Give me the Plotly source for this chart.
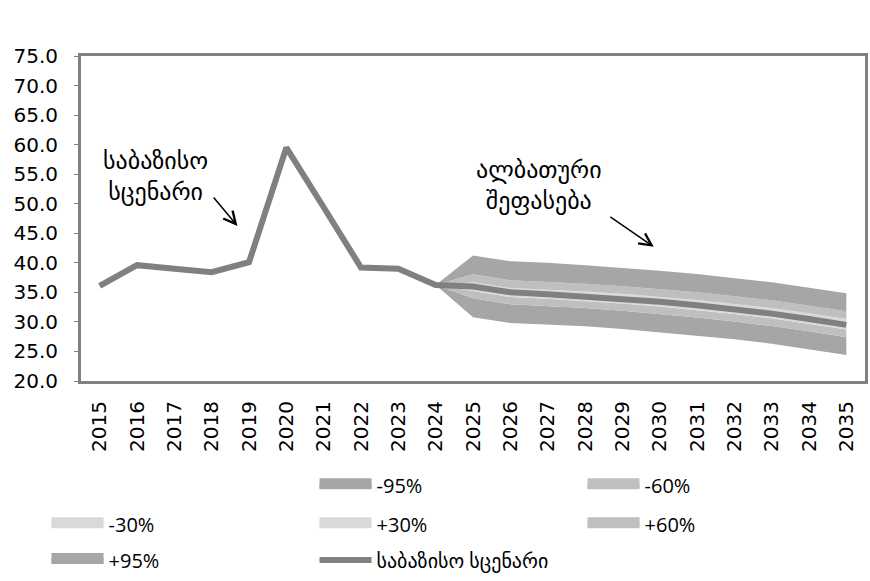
import plotly.graph_objects as go

# ---- data ----
years = [str(y) for y in range(2015, 2036)]
baseline = [36.1, 39.6, 39.0, 38.4, 40.1, 59.5, 49.4, 39.2, 39.0, 36.25,
            36.0, 35.0, 34.7, 34.35, 33.9, 33.4, 32.8, 32.15, 31.4, 30.5, 29.5]

fan_years = [str(y) for y in range(2024, 2036)]
# band widths (stacked) for 2024..2035
w_m95 = [0, 3.2, 3.2, 3.2, 3.1, 3.1, 3.1, 3.1, 3.0, 3.0, 3.0, 3.0]
w_m60 = [0, 1.2, 1.2, 1.2, 1.2, 1.2, 1.25, 1.25, 1.3, 1.3, 1.3, 1.3]
w_m30 = [0, 0.8, 0.8, 0.8, 0.8, 0.8, 0.8, 0.8, 0.8, 0.8, 0.8, 0.8]
w_p30 = [0, 0.7, 0.75, 0.8, 0.8, 0.85, 0.85, 0.9, 0.9, 0.95, 0.95, 1.0]
w_p60 = [0, 1.35, 1.3, 1.3, 1.3, 1.3, 1.3, 1.3, 1.3, 1.3, 1.3, 1.3]
w_p95 = [0, 3.2, 3.2, 3.2, 3.15, 3.1, 3.1, 3.1, 3.05, 3.05, 3.05, 3.05]

band_names = ["-95%", "-60%", "-30%", "+30%", "+60%", "+95%"]
band_widths = [w_m95, w_m60, w_m30, w_p30, w_p60, w_p95]
band_colors = ["#A6A6A6", "#BFBFBF", "#D9D9D9", "#D9D9D9", "#BFBFBF", "#A6A6A6"]
band_legends = ["legend", "legend", "legend2", "legend2", "legend2", "legend3"]

line_name = "საბაზისო სცენარი"
note1 = "საბაზისო<br>სცენარი"
note2 = "ალბათური<br>შეფასება"

# ---- figure ----
center = baseline[years.index("2024"):]
base = [c - a - b - d for c, a, b, d in zip(center, w_m30, w_m60, w_m95)]

fig = go.Figure()
fig.add_trace(go.Scatter(
    x=fan_years, y=base, name=" ", stackgroup="fan", mode="lines",
    line=dict(width=0, color="rgba(0,0,0,0)"), fillcolor="rgba(0,0,0,0)",
    legend="legend", hoverinfo="skip"))
for nm, w, col in zip(band_names, band_widths, band_colors):
    fig.add_trace(go.Scatter(
        x=fan_years, y=w, name=nm, stackgroup="fan", mode="lines",
        line=dict(width=0, color=col), fillcolor=col, showlegend=False))
# legend swatches for the bands (thicker keys, like the original)
for nm, col, lg in zip(band_names, band_colors, band_legends):
    fig.add_trace(go.Scatter(
        x=[None], y=[None], name=nm, mode="lines", fill="toself",
        line=dict(width=10, color=col), fillcolor=col, legend=lg,
        hoverinfo="skip"))
fig.add_trace(go.Scatter(
    x=years, y=baseline, name=line_name, mode="lines",
    line=dict(color="#808080", width=6), legend="legend3"))

legfont = dict(family="Open Sans, DejaVu Sans, sans-serif", size=20, color="#000000")
def leg(y):
    return dict(orientation="h", x=-0.044, xanchor="left", y=y, yanchor="middle",
                entrywidth=201, entrywidthmode="pixels", itemwidth=52,
                font=legfont, bgcolor="rgba(0,0,0,0)", traceorder="normal")

fig.update_layout(
    width=870, height=581,
    margin=dict(l=81, r=2, t=56, b=198),
    paper_bgcolor="white", plot_bgcolor="white",
    font=dict(family="DejaVu Sans, sans-serif", size=20, color="#000000"),
    legend=leg(-0.3211), legend2=leg(-0.4404), legend3=leg(-0.5505),
    xaxis=dict(type="category", categoryorder="array", categoryarray=years,
               range=[-0.5, len(years) - 0.5],
               tickangle=-90, showgrid=False, showline=True, mirror=True,
               linecolor="#808080", linewidth=3, ticks="", ticklabelstandoff=9,
               tickfont=dict(family="DejaVu Sans, sans-serif", size=20)),
    yaxis=dict(range=[20, 75], dtick=5, tickformat=".1f", showgrid=False,
               zeroline=False, showline=True, mirror=True, linecolor="#808080",
               linewidth=3, ticks="outside", ticklen=4, tickcolor="#808080",
               ticklabelstandoff=12,
               tickfont=dict(family="DejaVu Sans, sans-serif", size=20)),
    annotations=[
        dict(text=note1, xref="paper", yref="paper", x=0.095, y=0.628,
             xanchor="center", yanchor="middle",
             showarrow=False, font=dict(family="DejaVu Sans", size=24),
             align="center"),
        dict(text="", xref="paper", yref="paper", x=0.1995, y=0.477,
             showarrow=True, ax=-25, ay=-30, arrowhead=5, arrowsize=1.6,
             arrowwidth=1.5, arrowcolor="#000000"),
        dict(text=note2, xref="paper", yref="paper", x=0.5845, y=0.603,
             xanchor="center", yanchor="middle",
             showarrow=False, font=dict(family="DejaVu Sans", size=24),
             align="center"),
        dict(text="", xref="paper", yref="paper", x=0.7306, y=0.413,
             showarrow=True, ax=-45, ay=-31, arrowhead=5, arrowsize=1.6,
             arrowwidth=1.5, arrowcolor="#000000"),
    ],
)

fig.write_html("out.html", config={"displayModeBar": False},
               post_script="document.body.style.margin='0';document.body.style.overflow='hidden';")
